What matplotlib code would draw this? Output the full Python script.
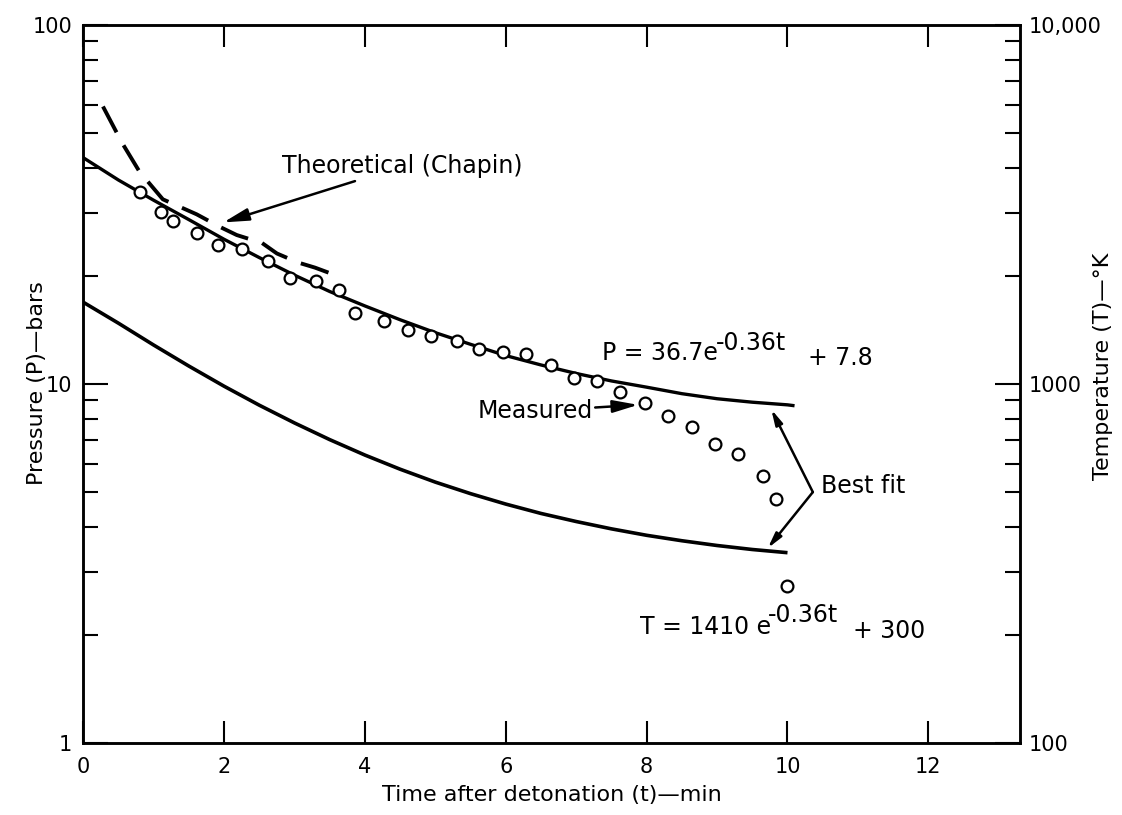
import matplotlib
matplotlib.use('Agg')
import matplotlib.pyplot as plt
from matplotlib.ticker import FixedLocator, FixedFormatter, NullFormatter

plt.rcParams['font.family'] = ['DejaVu Sans']

# measured pressure (bars) vs time (min)
t_meas = [0.80, 1.10, 1.27, 1.61, 1.92, 2.26, 2.62, 2.93, 3.30, 3.63, 3.86,
          4.27, 4.61, 4.94, 5.30, 5.62, 5.96, 6.28, 6.64, 6.97, 7.30, 7.62,
          7.98, 8.31, 8.64, 8.97, 9.30, 9.65, 9.83, 9.99]
p_meas = [34.2, 30.1, 28.4, 26.3, 24.4, 23.8, 22.0, 19.7, 19.4, 18.3, 15.8,
          15.0, 14.1, 13.6, 13.2, 12.5, 12.3, 12.1, 11.3, 10.4, 10.2, 9.5,
          8.85, 8.17, 7.57, 6.82, 6.40, 5.55, 4.78, 2.74]

# best-fit curves
t_fit = [0, 0.5, 1, 1.5, 2, 2.5, 3, 3.5, 4, 4.5, 5, 5.5, 6, 6.5, 7, 7.5,
         8, 8.5, 9, 9.5, 10, 10.1]
p_fit = [42.7, 37.0, 32.5, 28.7, 25.3, 22.5, 20.1, 18.1, 16.5, 15.1, 13.9,
         12.9, 12.0, 11.3, 10.7, 10.2, 9.8, 9.4, 9.1, 8.9, 8.75, 8.7]
T_fit = [1690, 1477, 1284, 1122, 986, 873, 779, 700, 634, 579, 533, 495,
         463, 436, 414, 395, 379, 366, 355, 346, 339, 338]

# theoretical (Chapin) pressure
t_theory = [0.28, 0.55, 0.80, 1.13, 1.61, 1.94, 2.18, 2.54, 2.75, 3.05, 3.29, 3.64]
p_theory = [59.3, 47.0, 39.0, 32.7, 29.7, 27.4, 26.0, 24.7, 23.1, 21.8, 21.1, 19.9]

x_ticks = [0, 2, 4, 6, 8, 10, 12]
p_ticks = [1, 10, 100]
p_labels = ['1', '10', '100']
T_ticks = [100, 1000, 10000]
T_labels = ['100', '1000', '10,000']

fig = plt.figure(figsize=(11.22, 8.15), dpi=100)
ax = fig.add_axes([0.0742, 0.0883, 0.8348, 0.881])
ax2 = ax.twinx()

ax.plot(t_fit, p_fit, color='black', lw=2.4, solid_capstyle='butt')
ax.plot(t_theory, p_theory, color='black', lw=2.8, dashes=(7.5, 3.8),
        dash_capstyle='butt')
ax.plot(t_meas, p_meas, 'o', mfc='white', mec='black', ms=8.5, mew=1.6)
ax2.plot(t_fit[:-1], T_fit[:-1], color='black', lw=2.6, solid_capstyle='butt')

ax.set_xlim(0, 13.3)
ax.set_yscale('log')
ax.set_ylim(1, 100)
ax2.set_yscale('log')
ax2.set_ylim(100, 10000)

ax.xaxis.set_major_locator(FixedLocator(x_ticks))
ax.yaxis.set_major_locator(FixedLocator(p_ticks))
ax.yaxis.set_major_formatter(FixedFormatter(p_labels))
ax.yaxis.set_minor_locator(FixedLocator([m * d for d in (1, 10) for m in range(2, 10)]))
ax.yaxis.set_minor_formatter(NullFormatter())
ax2.yaxis.set_major_locator(FixedLocator(T_ticks))
ax2.yaxis.set_major_formatter(FixedFormatter(T_labels))
ax2.yaxis.set_minor_locator(FixedLocator([m * d for d in (100, 1000) for m in range(2, 10)]))
ax2.yaxis.set_minor_formatter(NullFormatter())

ax.tick_params(axis='x', which='major', direction='in', length=16, width=1.5,
               top=True, labelsize=15, pad=10)
ax.tick_params(axis='y', which='major', direction='in', length=18, width=1.5,
               labelsize=15, pad=8)
ax.tick_params(axis='y', which='minor', direction='in', length=11, width=1.5)
ax2.tick_params(axis='y', which='major', direction='in', length=18, width=1.5,
                labelsize=15, pad=6)
ax2.tick_params(axis='y', which='minor', direction='in', length=11, width=1.5)
for a in (ax, ax2):
    for s in a.spines.values():
        s.set_linewidth(1.8)

ax.set_xlabel('Time after detonation (t)\u2014min', fontsize=16, labelpad=6)
fig.text(0.033, 0.53, 'Pressure (P)\u2014bars', fontsize=16, rotation=90,
         ha='center', va='center')
fig.text(0.983, 0.55, 'Temperature (T)\u2014\u00b0K', fontsize=16, rotation=90,
         ha='center', va='center')

arrow = dict(arrowstyle='-|>,head_width=0.22,head_length=0.9', color='black',
             lw=1.8, shrinkA=0, shrinkB=0)
fs = 17

ax.annotate('Theoretical (Chapin)', xy=(1.99, 28.2), xytext=(2.82, 40.4),
            fontsize=fs, va='center', ha='left', arrowprops=arrow)
ax.annotate('Measured', xy=(7.88, 8.75), xytext=(7.23, 8.4),
            fontsize=fs, va='center', ha='right', arrowprops=arrow)

ax.text(7.36, 12.2, 'P = 36.7e', fontsize=fs, va='center', ha='left')
ax.text(8.99, 13.0, '-0.36t', fontsize=fs, va='center', ha='left')
ax.text(10.29, 11.8, '+ 7.8', fontsize=fs, va='center', ha='left')

ax.text(7.90, 2.10, 'T = 1410 e', fontsize=fs, va='center', ha='left')
ax.text(9.72, 2.28, '-0.36t', fontsize=fs, va='center', ha='left')
ax.text(10.93, 2.05, '+ 300', fontsize=fs, va='center', ha='left')

ax.text(10.47, 5.2, 'Best fit', fontsize=fs, va='center', ha='left')
ax.annotate('', xy=(9.77, 8.50), xytext=(10.36, 5.0), arrowprops=arrow)
ax.annotate('', xy=(9.72, 3.49), xytext=(10.36, 5.0), arrowprops=arrow)

fig.savefig('out.png', dpi=100)
